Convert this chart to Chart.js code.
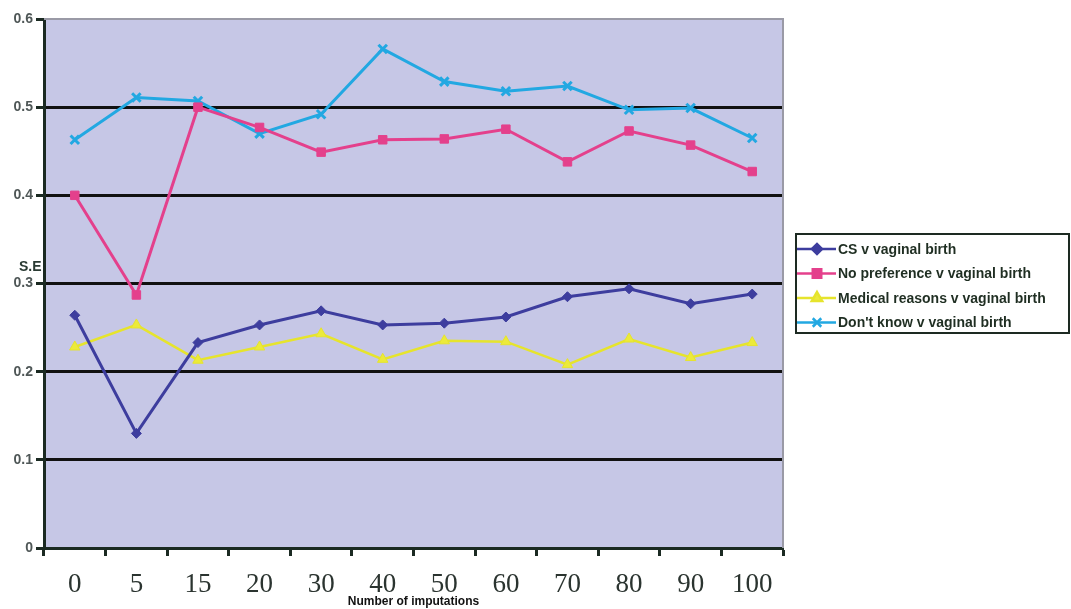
<!DOCTYPE html>
<html>
<head>
<meta charset="utf-8">
<script src="https://cdn.jsdelivr.net/npm/chart.js@4.4.0/dist/chart.umd.min.js"></script>
<style>
  html, body { margin: 0; padding: 0; background: #fff; }
  #wrap { width: 1071px; height: 609px; position: relative; }
</style>
</head>
<body>
<div id="wrap"><canvas id="grafSE"></canvas></div>
<script>
const imputations = ['0', '5', '15', '20', '30', '40', '50', '60', '70', '80', '90', '100']
const csVaginal = [0.264, 0.130, 0.233, 0.253, 0.269, 0.253, 0.255, 0.262, 0.285, 0.294, 0.277, 0.288]
const noPreference = [0.400, 0.287, 0.500, 0.477, 0.449, 0.463, 0.464, 0.475, 0.438, 0.473, 0.457, 0.427]
const medicalReasons = [0.228, 0.253, 0.213, 0.228, 0.243, 0.214, 0.235, 0.234, 0.208, 0.237, 0.216, 0.233]
const dontKnow = [0.463, 0.511, 0.507, 0.470, 0.492, 0.566, 0.529, 0.518, 0.524, 0.497, 0.499, 0.465]
const yTicks = [0, 0.1, 0.2, 0.3, 0.4, 0.5, 0.6]

const ctxSE = document.getElementById('grafSE')

// plot background, thin frame, boxed legend and the S.E label
const areaFrame = {
  id: 'areaFrame',
  beforeDraw(chart) {
    const { ctx, chartArea: a } = chart
    ctx.save()
    ctx.fillStyle = '#c6c7e6'
    ctx.fillRect(a.left, a.top, a.width, a.height)
    ctx.restore()
  },
  beforeDatasetsDraw(chart) {
    const { ctx, chartArea: a } = chart
    ctx.save()
    ctx.strokeStyle = '#9a9aa6'
    ctx.lineWidth = 2
    ctx.beginPath()
    ctx.moveTo(a.left, a.top)
    ctx.lineTo(a.right, a.top)
    ctx.lineTo(a.right, a.bottom)
    ctx.stroke()
    ctx.restore()
  },
  afterDraw(chart) {
    const { ctx, chartArea: a } = chart
    ctx.save()
    // S.E label
    ctx.fillStyle = '#2a3a33'
    ctx.font = 'bold 14px "Liberation Sans", Arial, sans-serif'
    ctx.textAlign = 'left'
    ctx.textBaseline = 'middle'
    ctx.fillText('S.E', 19, 267)

    // legend
    const boxX = a.right + 13
    const boxY = 234
    const boxW = 1069 - boxX
    const boxH = 99
    ctx.strokeStyle = '#1d2a22'
    ctx.lineWidth = 2
    ctx.strokeRect(boxX, boxY, boxW, boxH)
    chart.data.datasets.forEach((ds, i) => {
      const y = boxY + 15 + i * 24.5
      ctx.strokeStyle = ds.borderColor
      ctx.lineWidth = 2.5
      ctx.beginPath()
      ctx.moveTo(boxX + 1, y)
      ctx.lineTo(boxX + 40, y)
      ctx.stroke()
      ctx.fillStyle = ds.pointBackgroundColor
      ctx.strokeStyle = ds.borderColor
      Chart.helpers.drawPoint(ctx, {
        pointStyle: ds.pointStyle,
        radius: ds.pointRadius,
        borderWidth: ds.pointBorderWidth,
        rotation: 0
      }, boxX + 21, y)
      ctx.fillStyle = '#1f2e22'
      ctx.font = 'bold 14px "Liberation Sans", Arial, sans-serif'
      ctx.textAlign = 'left'
      ctx.textBaseline = 'middle'
      ctx.fillText(ds.label, boxX + 42, y + 1)
    })
    ctx.restore()
  }
}

new Chart(ctxSE, {
  type: 'line',
  data: {
    labels: imputations,
    datasets: [{
      label: 'CS v vaginal birth',
      data: csVaginal,
      borderColor: '#3d3d9e',
      pointBackgroundColor: '#3d3d9e',
      pointBorderColor: '#3d3d9e',
      pointStyle: 'rectRot',
      pointRadius: 5,
      pointBorderWidth: 1,
      borderWidth: 3
    }, {
      label: 'No preference v vaginal birth',
      data: noPreference,
      borderColor: '#e4408c',
      pointBackgroundColor: '#e4408c',
      pointBorderColor: '#e4408c',
      pointStyle: 'rect',
      pointRadius: 6,
      pointBorderWidth: 1,
      borderWidth: 3
    }, {
      label: 'Medical reasons v vaginal birth',
      data: medicalReasons,
      borderColor: '#e6e42c',
      pointBackgroundColor: '#ecea3a',
      pointBorderColor: '#e6e42c',
      pointStyle: 'triangle',
      pointRadius: 6,
      pointBorderWidth: 1,
      borderWidth: 2.5
    }, {
      label: "Don't know v vaginal birth",
      data: dontKnow,
      borderColor: '#22a8e2',
      pointBackgroundColor: '#22a8e2',
      pointBorderColor: '#22a8e2',
      pointStyle: 'crossRot',
      pointRadius: 6,
      pointBorderWidth: 3,
      borderWidth: 3
    }]
  },
  options: {
    responsive: true,
    maintainAspectRatio: false,
    animation: false,
    layout: {
      padding: { left: 0, right: 288, top: 19, bottom: 0 }
    },
    plugins: {
      legend: { display: false },
      tooltip: { enabled: false }
    },
    scales: {
      x: {
        offset: true,
        grid: {
          offset: true,
          drawOnChartArea: false,
          drawTicks: true,
          tickLength: 8,
          tickColor: '#1b2a22',
          tickWidth: 3
        },
        border: {
          display: true,
          color: '#1b2a22',
          width: 3
        },
        ticks: {
          color: '#2b3430',
          padding: 13,
          maxRotation: 0,
          autoSkip: false,
          font: {
            family: '"Liberation Serif", "Times New Roman", serif',
            size: 27
          }
        },
        title: {
          display: true,
          text: 'Number of imputations',
          color: '#111',
          padding: { top: 0, bottom: 0 },
          font: {
            family: '"Liberation Sans", Arial, sans-serif',
            size: 12,
            weight: 'bold'
          }
        },
        afterFit(scale) {
          scale.height = 61
        }
      },
      y: {
        min: 0,
        max: 0.6,
        afterBuildTicks(scale) {
          scale.ticks = yTicks.map(v => ({ value: v }))
        },
        grid: {
          color: (c) => (c.tick && c.tick.value > 0.05 && c.tick.value < 0.55) ? '#111' : 'rgba(0,0,0,0)',
          lineWidth: 3,
          drawTicks: true,
          tickLength: 8,
          tickColor: '#1b2a22',
          tickWidth: 3
        },
        border: {
          display: true,
          color: '#1b2a22',
          width: 3
        },
        ticks: {
          color: '#4f5757',
          padding: 3,
          callback: (v) => String(v),
          font: {
            family: '"Liberation Sans", Arial, sans-serif',
            size: 14,
            weight: 'bold'
          }
        },
        afterFit(scale) {
          scale.width = 44
        }
      }
    }
  },
  plugins: [areaFrame]
});
</script>
</body>
</html>
